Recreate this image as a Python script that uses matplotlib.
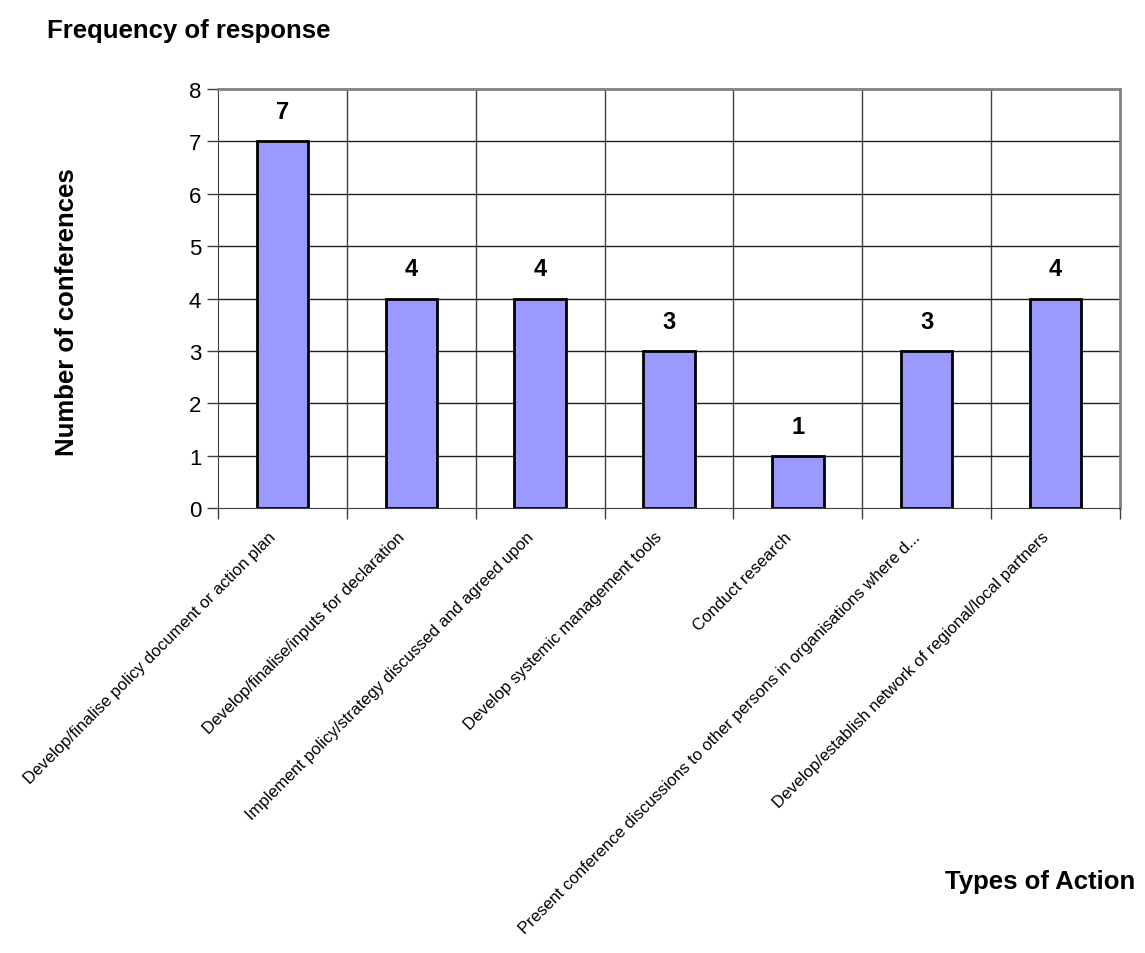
import matplotlib
matplotlib.use('Agg')
import matplotlib.pyplot as plt

categorias = [
    'Develop/finalise policy document or action plan',
    'Develop/finalise/inputs for declaration',
    'Implement policy/strategy discussed and agreed upon',
    'Develop systemic management tools',
    'Conduct research',
    'Present conference discussions to other persons in organisations where d...',
    'Develop/establish network of regional/local partners',
]
valores = [7, 4, 4, 3, 1, 3, 4]

plt.rcParams['font.family'] = ['Liberation Sans', 'DejaVu Sans']

fig = plt.figure(figsize=(11.45, 9.54), dpi=100)
ax = fig.add_axes([218 / 1145, 1 - 509 / 954, (1120 - 218) / 1145, (509 - 90) / 954])

indice = list(range(len(categorias)))
barras = ax.bar(indice, valores, width=0.4, color='#9999ff', edgecolor='black',
                linewidth=2, zorder=3)

ax.set_xlim(-0.5, len(categorias) - 0.5)
ax.set_ylim(0, 8)
ax.set_yticks(range(0, 9))
ax.tick_params(axis='y', labelsize=16, length=8, width=1, color='#404040', pad=4)

# grade: linhas verticais nos limites das categorias
for x in [i + 0.5 for i in indice[:-1]]:
    ax.axvline(x, color='#404040', linewidth=1, zorder=1)
for y in range(1, 8):
    ax.axhline(y, color='#202020', linewidth=1, zorder=1)

ax.set_xticks([i - 0.5 for i in indice] + [len(categorias) - 0.5])
ax.set_xticklabels([])
ax.tick_params(axis='x', length=8, width=1, color='#404040')
for i, cat in enumerate(categorias):
    ax.text(i - 0.07, -0.5, cat, rotation=45, ha='right', va='center',
            rotation_mode='anchor', fontsize=12)

for s in ['top', 'right']:
    ax.spines[s].set_color('#808080')
    ax.spines[s].set_linewidth(2)
ax.spines['left'].set_color('#404040')
ax.spines['bottom'].set_color('#404040')

for barra in barras:
    altura = barra.get_height()
    ax.annotate('{}'.format(int(altura)),
                xy=(barra.get_x() + barra.get_width() / 2, altura),
                xytext=(0, 13), textcoords='offset points',
                ha='center', va='bottom', fontsize=17, fontweight='bold')

fig.text(47 / 1145, 1 - 31 / 954, 'Frequency of response', fontsize=18.5,
         fontweight='bold', ha='left', va='center')
fig.text(67 / 1145, 1 - 312 / 954, 'Number of conferences', fontsize=18.5,
         fontweight='bold', rotation=90, ha='center', va='center')
fig.text(1135 / 1145, 1 - 882 / 954, 'Types of Action', fontsize=18.5,
         fontweight='bold', ha='right', va='center')

fig.savefig('out.png', dpi=100)
